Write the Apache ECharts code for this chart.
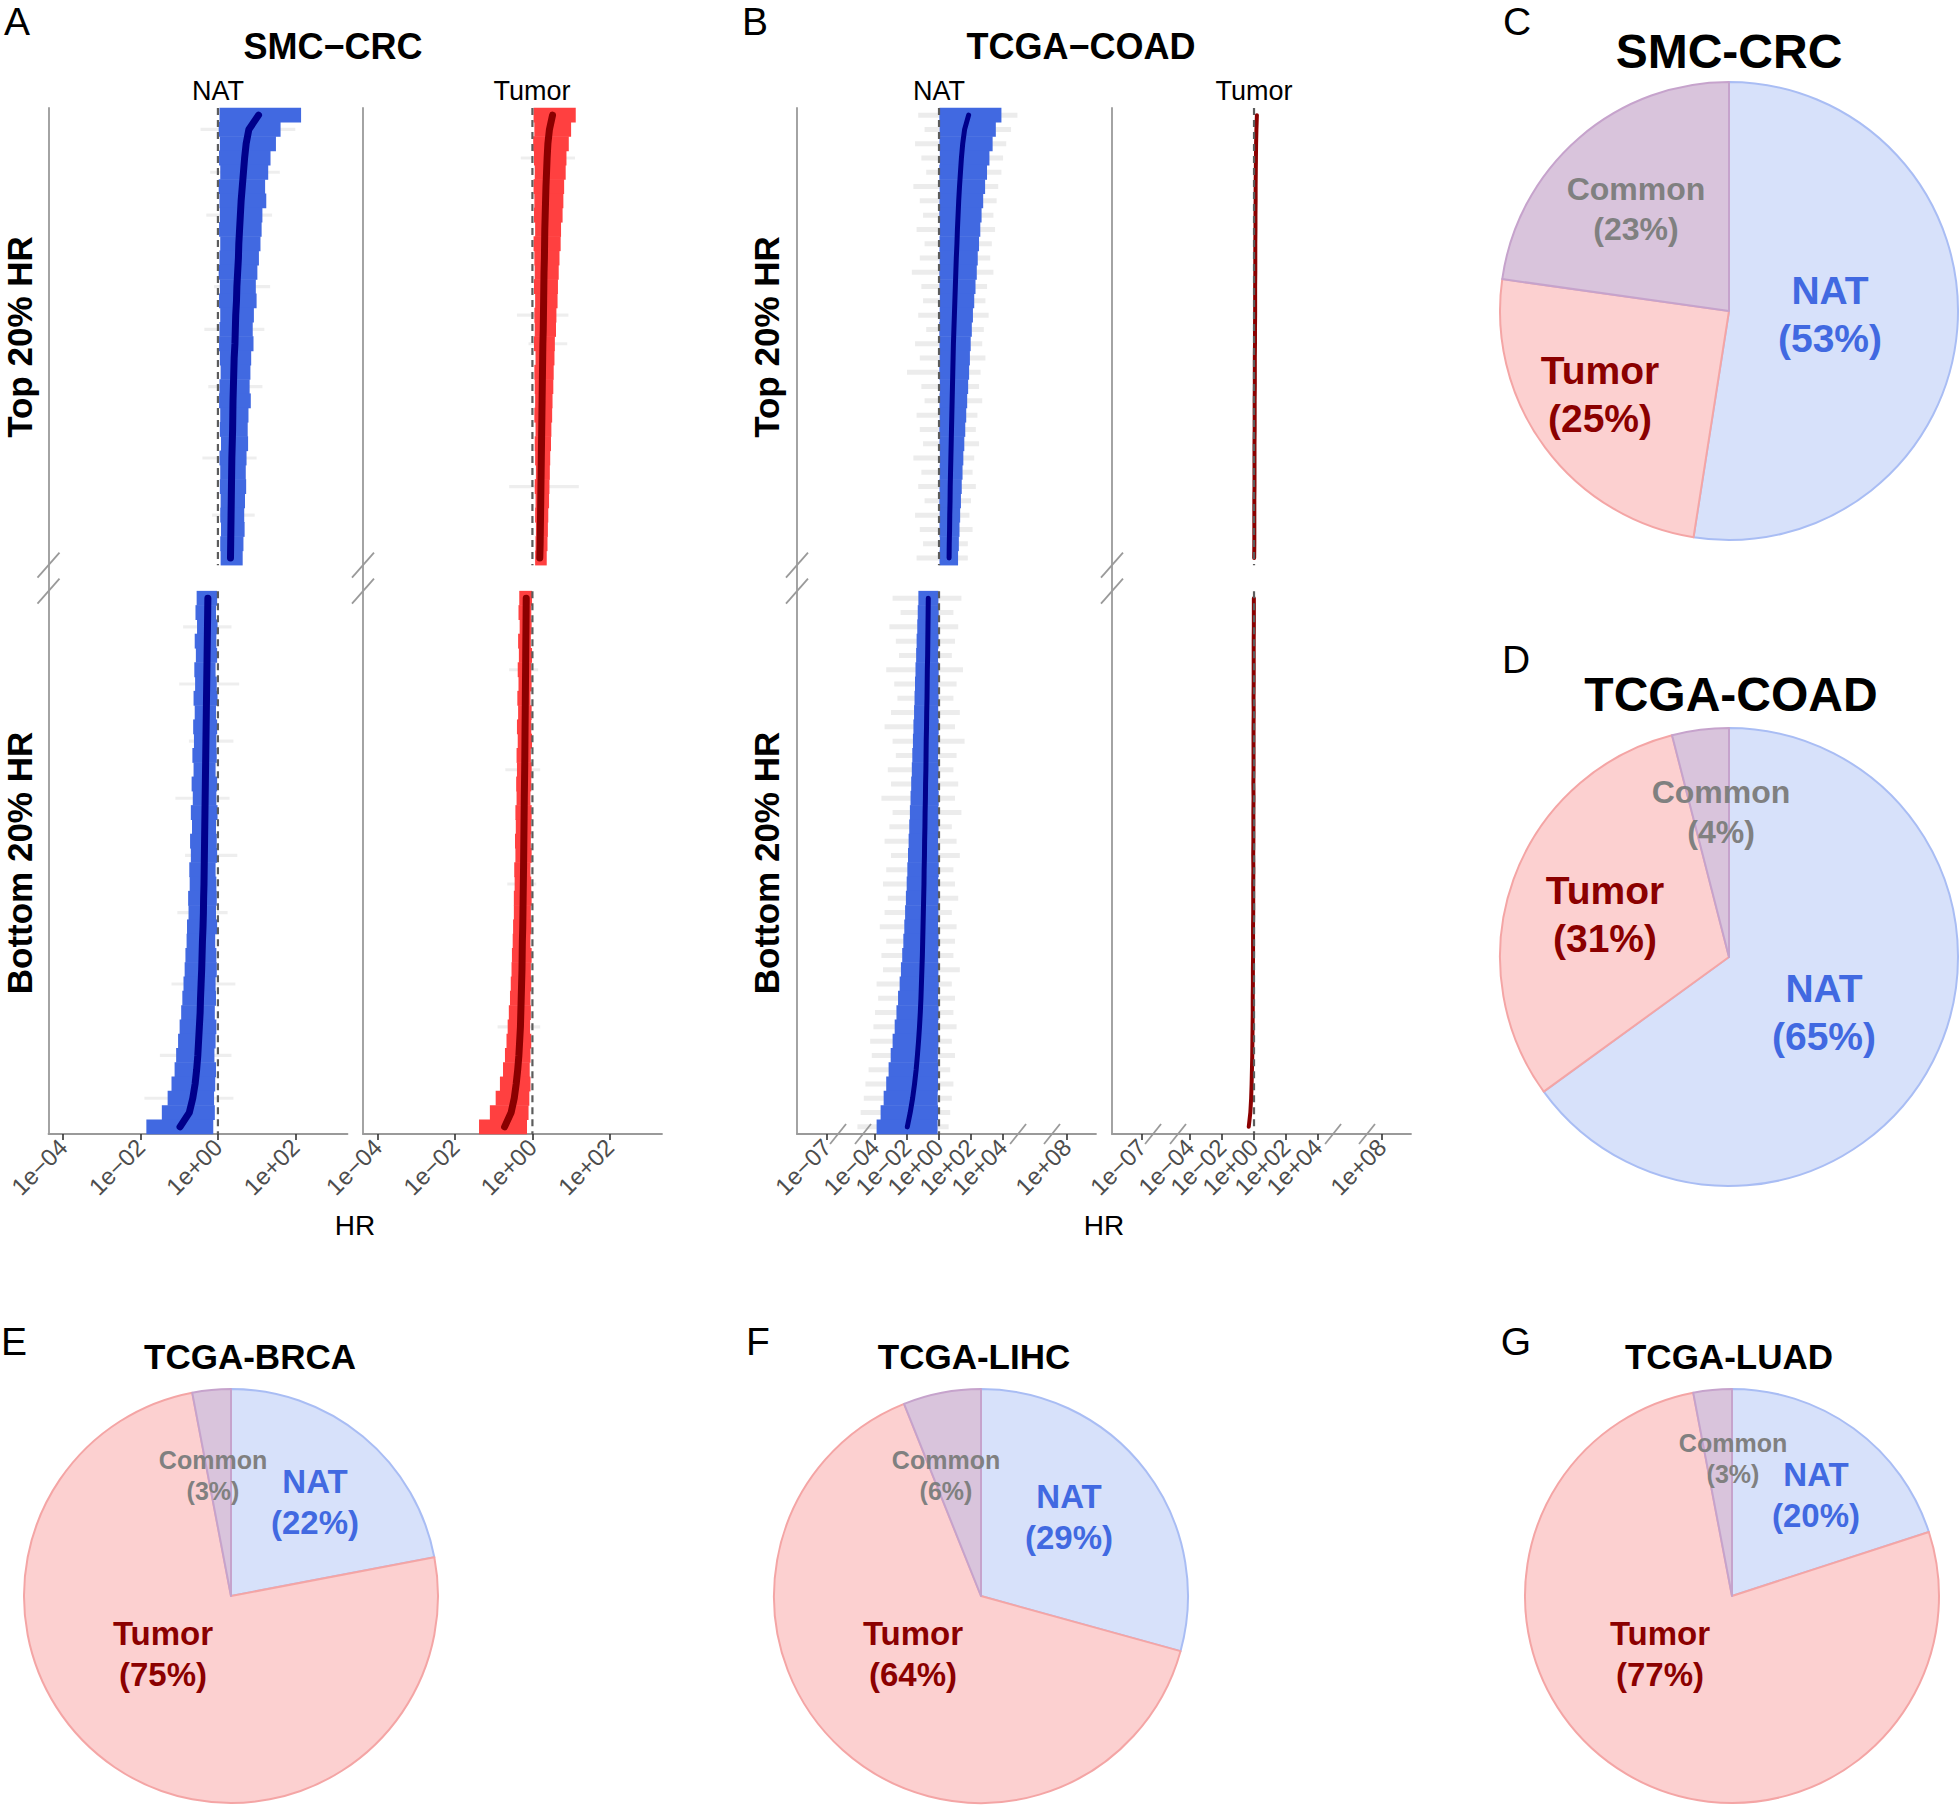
<!DOCTYPE html>
<html><head><meta charset="utf-8">
<script src="https://cdn.jsdelivr.net/npm/echarts/dist/echarts.min.js"></script>
<style>html,body{margin:0;padding:0;background:#fff}#c{width:1960px;height:1806px}</style>
</head><body><div id="c"></div>
<script>
// ===== DATA (log10 of HR; row 0 = top of facet) =====
// Panel A, SMC-CRC, NAT
const aNatTopHR = [1.05,0.80,0.73,0.69,0.66,0.63,0.60,0.58,0.56,0.54,0.53,0.51,0.49,0.48,0.46,0.45,0.44,0.42,0.41,0.40,0.39,0.385,0.38,0.37,0.36,0.355,0.35,0.345,0.34,0.335,0.33,0.325];
const aNatTopLo = [0.04,0.02,0.05,0.03,0.06,0.02,0.04,0.05,0.03,0.06,0.04,0.02,0.05,0.03,0.06,0.04,0.03,0.05,0.07,0.04,0.03,0.06,0.05,0.08,0.04,0.06,0.05,0.07,0.06,0.08,0.06,0.07];
const aNatTopHi = [2.15,1.62,1.50,1.36,1.30,1.22,1.25,1.15,1.13,1.10,1.06,1.02,0.98,1.00,0.93,0.90,0.92,0.86,0.84,0.82,0.85,0.79,0.77,0.78,0.74,0.72,0.73,0.70,0.68,0.69,0.66,0.64];
const aNatBotHR = [-0.26,-0.265,-0.27,-0.275,-0.28,-0.285,-0.29,-0.295,-0.30,-0.305,-0.31,-0.315,-0.32,-0.325,-0.33,-0.335,-0.34,-0.345,-0.35,-0.355,-0.36,-0.37,-0.375,-0.385,-0.40,-0.41,-0.42,-0.435,-0.45,-0.46,-0.48,-0.50,-0.52,-0.55,-0.59,-0.65,-0.74,-0.98];
const aNatBotLo = [-0.55,-0.58,-0.54,-0.60,-0.57,-0.61,-0.59,-0.63,-0.60,-0.64,-0.62,-0.66,-0.63,-0.68,-0.65,-0.70,-0.67,-0.72,-0.70,-0.74,-0.73,-0.77,-0.76,-0.80,-0.81,-0.84,-0.86,-0.89,-0.92,-0.95,-0.99,-1.03,-1.08,-1.12,-1.20,-1.30,-1.45,-1.85];
const aNatBotHi = [-0.02,-0.05,-0.01,-0.04,-0.02,-0.06,-0.03,-0.01,-0.05,-0.02,-0.04,-0.03,-0.06,-0.02,-0.04,-0.01,-0.05,-0.03,-0.02,-0.06,-0.04,-0.03,-0.05,-0.02,-0.07,-0.04,-0.03,-0.06,-0.05,-0.08,-0.04,-0.06,-0.09,-0.05,-0.07,-0.10,-0.08,-0.12];
// faint grey intervals [row, lo, hi]
const aNatGrayTop = [[1,-0.45,2.0],[4,-0.2,1.6],[7,-0.3,1.4],[12,-0.1,1.35],[15,-0.35,1.2],[19,-0.25,1.15],[24,-0.4,1.0],[28,-0.15,0.95]];
const aNatGrayBot = [[2,-0.9,0.35],[6,-1.0,0.55],[10,-0.75,0.4],[14,-1.1,0.3],[18,-0.85,0.5],[22,-1.05,0.25],[27,-1.2,0.45],[32,-1.5,0.35],[35,-1.9,0.4]];
// Panel A, SMC-CRC, Tumor
const aTumTopHR = [0.52,0.44,0.40,0.38,0.365,0.35,0.34,0.33,0.32,0.315,0.31,0.30,0.295,0.29,0.285,0.28,0.27,0.265,0.26,0.255,0.25,0.245,0.24,0.235,0.23,0.225,0.22,0.215,0.21,0.205,0.20,0.19];
const aTumTopLo = [0.03,0.05,0.02,0.04,0.06,0.03,0.05,0.04,0.07,0.03,0.05,0.06,0.04,0.07,0.05,0.06,0.04,0.08,0.05,0.06,0.07,0.05,0.08,0.06,0.07,0.09,0.06,0.08,0.07,0.09,0.08,0.07];
const aTumTopHi = [1.12,1.00,0.94,0.88,0.86,0.82,0.80,0.78,0.74,0.73,0.70,0.68,0.66,0.65,0.62,0.61,0.58,0.57,0.55,0.54,0.52,0.51,0.49,0.48,0.46,0.45,0.44,0.43,0.41,0.40,0.39,0.37];
const aTumBotHR = [-0.16,-0.163,-0.166,-0.17,-0.173,-0.176,-0.18,-0.183,-0.186,-0.19,-0.193,-0.196,-0.20,-0.205,-0.21,-0.214,-0.218,-0.222,-0.226,-0.23,-0.235,-0.24,-0.245,-0.25,-0.26,-0.265,-0.27,-0.28,-0.29,-0.30,-0.31,-0.33,-0.35,-0.38,-0.42,-0.47,-0.55,-0.72];
const aTumBotLo = [-0.34,-0.36,-0.33,-0.37,-0.35,-0.38,-0.36,-0.39,-0.37,-0.40,-0.38,-0.41,-0.40,-0.42,-0.41,-0.44,-0.43,-0.45,-0.44,-0.47,-0.46,-0.48,-0.48,-0.50,-0.51,-0.53,-0.54,-0.56,-0.58,-0.61,-0.64,-0.67,-0.71,-0.76,-0.84,-0.95,-1.10,-1.38];
const aTumBotHi = [-0.01,-0.03,-0.02,-0.04,-0.01,-0.03,-0.02,-0.05,-0.02,-0.03,-0.01,-0.04,-0.02,-0.03,-0.05,-0.02,-0.03,-0.04,-0.02,-0.05,-0.03,-0.02,-0.04,-0.03,-0.05,-0.02,-0.04,-0.03,-0.05,-0.04,-0.06,-0.03,-0.05,-0.07,-0.05,-0.08,-0.10,-0.14];
const aTumGrayTop = [[3,-0.3,1.1],[14,-0.4,0.93],[16,-0.1,0.9],[26,-0.6,1.2]];
const aTumGrayBot = [[5,-0.6,0.15],[12,-0.7,0.2],[20,-0.65,0.1],[30,-0.9,0.2]];
// Panel B, TCGA-COAD, NAT
const bNatTopHR = [1.85,1.60,1.48,1.40,1.34,1.28,1.23,1.19,1.15,1.12,1.08,1.05,1.02,0.99,0.96,0.93,0.90,0.88,0.86,0.84,0.82,0.80,0.78,0.76,0.74,0.72,0.70,0.69,0.67,0.66,0.64,0.63];
const bNatTopLo = [0.02,0.04,0.03,0.05,0.02,0.04,0.03,0.02,0.05,0.03,0.04,0.02,0.03,0.05,0.04,0.02,0.03,0.04,0.02,0.05,0.03,0.04,0.02,0.03,0.05,0.04,0.03,0.02,0.04,0.03,0.05,0.03];
const bNatTopHi = [3.90,3.55,3.35,3.15,3.00,2.88,2.76,2.66,2.58,2.50,2.42,2.36,2.28,2.20,2.12,2.05,1.98,1.93,1.88,1.82,1.76,1.70,1.64,1.58,1.52,1.47,1.42,1.37,1.32,1.28,1.24,1.19];
const bNatTopGrayLo = [-1.3,-0.9,-1.5,-1.1,-0.8,-1.6,-1.2,-1.0,-1.4,-0.9,-1.2,-1.7,-1.1,-1.0,-1.3,-0.8,-1.5,-1.2,-2.0,-1.1,-0.9,-1.4,-1.2,-1.0,-1.6,-1.1,-1.3,-0.9,-1.5,-1.2,-1.0,-1.4];
const bNatTopGrayHi = [4.9,4.5,4.2,4.0,3.9,3.7,3.6,3.4,3.5,3.3,3.2,3.4,3.0,2.9,3.1,2.8,2.7,2.9,2.6,2.5,2.7,2.4,2.3,2.5,2.2,2.1,2.3,2.0,1.9,2.1,1.8,1.8];
const bNatBotHR = [-0.67,-0.68,-0.69,-0.70,-0.71,-0.73,-0.74,-0.75,-0.77,-0.78,-0.80,-0.81,-0.82,-0.84,-0.85,-0.87,-0.88,-0.90,-0.91,-0.93,-0.94,-0.96,-0.98,-1.00,-1.02,-1.04,-1.07,-1.10,-1.13,-1.17,-1.22,-1.28,-1.35,-1.43,-1.53,-1.65,-1.80,-1.98];
const bNatBotLo = [-1.29,-1.33,-1.36,-1.40,-1.43,-1.47,-1.50,-1.53,-1.56,-1.60,-1.63,-1.67,-1.70,-1.74,-1.78,-1.82,-1.86,-1.90,-1.94,-1.98,-2.02,-2.07,-2.12,-2.17,-2.23,-2.30,-2.38,-2.46,-2.56,-2.66,-2.77,-2.90,-3.02,-3.15,-3.30,-3.46,-3.65,-3.90];
const bNatBotHi = [-0.04,-0.02,-0.05,-0.03,-0.06,-0.02,-0.04,-0.03,-0.05,-0.02,-0.04,-0.06,-0.03,-0.05,-0.02,-0.04,-0.03,-0.06,-0.04,-0.02,-0.05,-0.03,-0.04,-0.06,-0.03,-0.05,-0.04,-0.02,-0.06,-0.03,-0.05,-0.04,-0.07,-0.05,-0.06,-0.08,-0.06,-0.09];
const bNatBotGrayLo = [-2.9,-2.4,-3.1,-2.7,-2.5,-3.3,-2.8,-2.6,-3.0,-3.4,-2.9,-2.7,-3.2,-3.0,-3.6,-2.9,-3.1,-3.4,-3.0,-3.3,-3.5,-3.2,-3.4,-3.7,-3.3,-3.6,-3.5,-3.9,-3.8,-4.0,-4.1,-4.3,-4.2,-4.4,-4.6,-4.7,-4.9,-5.1];
const bNatBotGrayHi = [1.4,0.9,1.2,1.0,0.8,1.5,1.1,0.9,1.3,1.0,1.6,1.1,0.9,1.2,1.0,1.4,0.8,1.1,1.3,0.9,1.0,1.2,0.8,1.1,1.0,0.9,1.3,0.8,1.0,0.9,1.1,0.8,1.0,0.7,0.9,0.8,0.7,0.6];
// Panel B, TCGA-COAD, Tumor
const bTumTopHR = [0.18,0.15,0.13,0.12,0.11,0.10,0.10,0.09,0.09,0.08,0.08,0.08,0.07,0.07,0.07,0.06,0.06,0.05,0.05,0.05,0.04,0.04,0.04,0.03,0.03,0.03,0.03,0.02,0.02,0.02,0.02,0.01];
const bTumBotHR = [-0.01,-0.01,-0.01,-0.02,-0.02,-0.02,-0.02,-0.03,-0.02,-0.03,-0.03,-0.03,-0.03,-0.04,-0.03,-0.04,-0.04,-0.04,-0.05,-0.04,-0.05,-0.05,-0.05,-0.06,-0.06,-0.06,-0.07,-0.07,-0.08,-0.08,-0.09,-0.10,-0.11,-0.13,-0.15,-0.18,-0.23,-0.33];
// tick labels (log10 positions)
const aTicks = [-4,-2,0,2];
const bTicks = [-7,-4,-2,0,2,4,8];
const bBreaks = [-6.31,-4.75,4.94,7.06];
// Pies (percent)
const pieNames = ['NAT','Tumor','Common'];
const pieSMC  = [53,25,23];
const pieCOAD = [65,31,4];
const pieBRCA = [22,75,3];
const pieLIHC = [29,64,6];
const pieLUAD = [20,77,3];

// ===== LAYOUT =====
const FONT = '"Liberation Sans", Arial, Helvetica, sans-serif';
const GAP = 1.82, BOT = 31.5 + GAP + 0.5;   // y of first bottom row
const YMIN = -0.5, YMAX = BOT + 37.5;
const grids = [
  {left:48.5, width:299, min:-4.38, max:3.35, ticks:aTicks},
  {left:363,  width:299, min:-4.38, max:3.35, ticks:aTicks},
  {left:797,  width:299, min:-8.875, max:9.81, ticks:bTicks},
  {left:1112, width:299, min:-8.875, max:9.81, ticks:bTicks}
];
const AXC = '#9a9a9a';
function sci(v){const e=Math.round(v);return '1e'+(e<0?'\u2212':'+')+String(Math.abs(e)).padStart(2,'0');}

const chart = echarts.init(document.getElementById('c'), null, {renderer:'svg', width:1960, height:1806});

function barRender(hFrac){
  return function(p, api){
    const y=api.value(0), lo=api.value(1), hi=api.value(2);
    const a=api.coord([lo,y]), b=api.coord([hi,y]);
    const h=Math.abs(api.size([0,1])[1])*hFrac;
    return {type:'rect', shape:{x:Math.min(a[0],b[0]), y:a[1]-h/2, width:Math.abs(b[0]-a[0]), height:h}, style:{fill:api.visual('color')}};
  };
}
function bars(g, rows, color, hFrac, z){
  return {type:'custom', xAxisIndex:g, yAxisIndex:g, silent:true, z:z, animation:false, clip:false,
    itemStyle:{color:color}, renderItem:barRender(hFrac), encode:{x:[1,2], y:0}, data:rows};
}
function ciRows(lo, hi, y0){ return lo.map((l,i)=>[y0+i, l, hi[i]]); }
function grayRows(list, y0){ return list.map(r=>[y0+r[0], r[1], r[2]]); }
function hrLine(g, hr, y0, color, w){
  return {type:'line', xAxisIndex:g, yAxisIndex:g, silent:true, z:3, animation:false, showSymbol:false,
    lineStyle:{color:color, width:w, cap:'round', join:'round'}, data:hr.map((v,i)=>[v, y0+i])};
}
function dashed(g){
  return {type:'custom', xAxisIndex:g, yAxisIndex:g, silent:true, z:4, animation:false, clip:false,
    renderItem:function(p, api){
      const a=api.coord([api.value(0), api.value(1)]), b=api.coord([api.value(0), api.value(2)]);
      return {type:'line', shape:{x1:a[0], y1:a[1], x2:b[0], y2:b[1]}, style:{stroke:'#5c5c5c', lineWidth:2.2, lineDash:[7,5]}};
    }, encode:{x:0, y:[1,2]}, data:[[0, YMIN, 31.5],[0, BOT-0.5, YMAX]]};
}

const series = [];
const BLUE='#4169e1', NAVY='#00008b', RED='#ff4040', DRED='#8b0000';
const GRAY_A='rgba(205,205,205,0.35)', GRAY_B='rgba(195,195,195,0.32)';
// A NAT
series.push(bars(0, grayRows(aNatGrayTop,0).concat(grayRows(aNatGrayBot,BOT)), GRAY_A, 0.22, 1));
series.push(bars(0, ciRows(aNatTopLo,aNatTopHi,0).concat(ciRows(aNatBotLo,aNatBotHi,BOT)), BLUE, 1.04, 2));
series.push(hrLine(0, aNatTopHR, 0, NAVY, 7), hrLine(0, aNatBotHR, BOT, NAVY, 7), dashed(0));
// A Tumor
series.push(bars(1, grayRows(aTumGrayTop,0).concat(grayRows(aTumGrayBot,BOT)), GRAY_A, 0.22, 1));
series.push(bars(1, ciRows(aTumTopLo,aTumTopHi,0).concat(ciRows(aTumBotLo,aTumBotHi,BOT)), RED, 1.04, 2));
series.push(hrLine(1, aTumTopHR, 0, DRED, 7), hrLine(1, aTumBotHR, BOT, DRED, 7), dashed(1));
// B NAT
series.push(bars(2, ciRows(bNatTopGrayLo,bNatTopGrayHi,0).concat(ciRows(bNatBotGrayLo,bNatBotGrayHi,BOT)), GRAY_B, 0.35, 1));
series.push(bars(2, ciRows(bNatTopLo,bNatTopHi,0).concat(ciRows(bNatBotLo,bNatBotHi,BOT)), BLUE, 1.04, 2));
series.push(hrLine(2, bNatTopHR, 0, NAVY, 5), hrLine(2, bNatBotHR, BOT, NAVY, 5), dashed(2));
// B Tumor
series.push(hrLine(3, bTumTopHR, 0, DRED, 4), hrLine(3, bTumBotHR, BOT, DRED, 4), dashed(3));

// Pies
const pieFill = ['#d7e1fa','#fcd0d0','#d9c4dc'];
const pieBorder = ['#a9bdf4','#f4a5a5','#c6a3cc'];
const pieTxt = ['#4169e1','#8b0000','#808080'];
const pies = [
  {vals:pieSMC,  title:'SMC-CRC',   letter:'C', c:[1729,311], r:229, tpos:[1729,51],  lpos:[1517,21],  big:true, lab:[[1830,314],[1600,394],[1636,209]]},
  {vals:pieCOAD, title:'TCGA-COAD', letter:'D', c:[1729,957], r:229, tpos:[1731,694], lpos:[1516,659], big:true, lab:[[1824,1012],[1605,914],[1721,812]]},
  {vals:pieBRCA, title:'TCGA-BRCA', letter:'E', c:[231,1596], r:207, tpos:[250,1356], lpos:[14,1341],  big:false, lab:[[315,1502],[163,1654],[213,1475]]},
  {vals:pieLIHC, title:'TCGA-LIHC', letter:'F', c:[981,1596], r:207, tpos:[974,1356], lpos:[758,1341], big:false, lab:[[1069,1517],[913,1654],[946,1475]]},
  {vals:pieLUAD, title:'TCGA-LUAD', letter:'G', c:[1732,1596],r:207, tpos:[1729,1356],lpos:[1516,1341], big:false, lab:[[1816,1495],[1660,1654],[1733,1458]]}
];
const graphic = [];
function txt(s, x, y, size, weight, color, extra){
  return {type:'text', x:x, y:y, silent:true, z:100, style:Object.assign({text:s, fontFamily:FONT, fontSize:size, fontWeight:weight||'normal', fill:color||'#000', align:'center', verticalAlign:'middle'}, extra||{})};
}
pies.forEach(p=>{
  series.push({type:'pie', center:p.c, radius:p.r, startAngle:90, clockwise:true, silent:true, animation:false,
    label:{show:false}, labelLine:{show:false},
    data:pieNames.map((n,k)=>({name:n, value:p.vals[k], itemStyle:{color:pieFill[k], borderColor:pieBorder[k], borderWidth:2}}))});
  graphic.push(txt(p.title, p.tpos[0], p.tpos[1], p.big?48:35, 'bold'));
  graphic.push(txt(p.letter, p.lpos[0], p.lpos[1], 39, 'normal'));
  pieNames.forEach((n,k)=>{
    const common = k===2;
    const fs = p.big ? (common?32:39) : (common?25:33);
    const lh = p.big ? (common?40:48) : (common?31:41);
    graphic.push(txt(n+'\n('+p.vals[k]+'%)', p.lab[k][0], p.lab[k][1], fs, 'bold', pieTxt[k], {lineHeight:lh}));
  });
});
// forest plot texts
graphic.push(txt('A', 17, 21, 39), txt('B', 755, 21, 39));
graphic.push(txt('SMC\u2212CRC', 333, 46, 36, 'bold'), txt('TCGA\u2212COAD', 1081, 46, 36, 'bold'));
graphic.push(txt('NAT', 218, 91, 27), txt('Tumor', 532, 91, 27), txt('NAT', 939, 91, 27), txt('Tumor', 1254, 91, 27));
graphic.push(txt('HR', 355, 1225, 28), txt('HR', 1104, 1225, 28));
[[19,337,'Top 20% HR'],[19,863,'Bottom 20% HR'],[766,337,'Top 20% HR'],[766,863,'Bottom 20% HR']].forEach(t=>{
  const g = txt(t[2], t[0], t[1], 35, 'bold'); g.rotation = Math.PI/2; graphic.push(g);
});

const option = {
  animation:false, backgroundColor:'#fff',
  grid: grids.map(g=>({left:g.left, width:g.width, top:108, height:1026, containLabel:false, outerBoundsMode:'none'})),
  xAxis: grids.map((g,i)=>({type:'value', gridIndex:i, min:g.min, max:g.max, splitLine:{show:false},
    axisLine:{show:true, onZero:false, lineStyle:{color:AXC, width:1.8}},
    axisTick:{show:true, length:6, customValues:g.ticks, lineStyle:{color:'#333', width:1.6}},
    axisLabel:{show:true, customValues:g.ticks, rotate:45, margin:9, fontSize:24, color:'#4d4d4d', fontFamily:FONT, formatter:sci}})),
  yAxis: grids.map((g,i)=>({type:'value', gridIndex:i, min:YMIN, max:YMAX, inverse:true, splitLine:{show:false},
    axisLine:{show:true, onZero:false, lineStyle:{color:AXC, width:1.8}}, axisTick:{show:false}, axisLabel:{show:false}})),
  series: series,
  graphic: graphic
};
chart.setOption(option);

// break marks on axes
const marks = [];
function slash(x, y, w, h){ return {type:'line', silent:true, z:101, shape:{x1:x-w/2, y1:y+h/2, x2:x+w/2, y2:y-h/2}, style:{stroke:AXC, lineWidth:1.8}}; }
grids.forEach((g,i)=>{
  const p1 = chart.convertToPixel({gridIndex:i}, [g.min, 31.5]);
  const p2 = chart.convertToPixel({gridIndex:i}, [g.min, BOT-0.5]);
  marks.push(slash(p1[0], p1[1], 22, 25), slash(p2[0], p2[1], 22, 25));
});
[2,3].forEach(i=>{
  bBreaks.forEach(v=>{
    const p = chart.convertToPixel({gridIndex:i}, [v, YMAX]);
    marks.push(slash(p[0], p[1], 16, 20));
  });
});
chart.setOption({graphic: graphic.concat(marks)});
</script></body></html>
